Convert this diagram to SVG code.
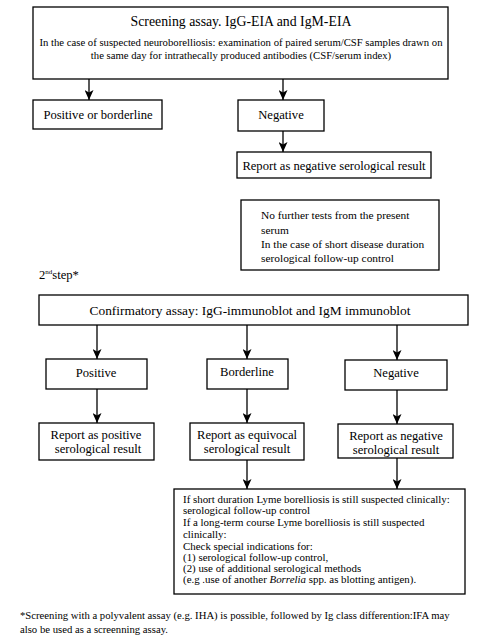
<svg xmlns="http://www.w3.org/2000/svg" width="482" height="644" viewBox="0 0 482 644">
<style>
text{font-family:"Liberation Serif","Times New Roman",serif;fill:#000}
.b{fill:#fff;stroke:#000;stroke-width:1.3}
.t{font-size:13.8px}
.m{font-size:12.6px}
.cf{font-size:13.4px}
.s{font-size:10.7px}
.n{font-size:11.4px}
.g{font-size:10.9px}
.f{font-size:10.7px}
.c{stroke:#000;stroke-width:1.3;fill:none}
</style>
<defs>
<marker id="ar" markerWidth="10" markerHeight="9" refX="10" refY="4.5" orient="auto" markerUnits="userSpaceOnUse" viewBox="0 0 10 9">
<path d="M0,0 L2.5,4.5 L0,9 L10,4.5 Z" fill="#000"/>
</marker>
</defs>
<rect width="482" height="644" fill="#fff"/>
<g id="connectors">
<line class="c" x1="89" y1="79" x2="89" y2="100" marker-end="url(#ar)"/>
<line class="c" x1="283" y1="79" x2="283" y2="100" marker-end="url(#ar)"/>
<line class="c" x1="283" y1="131" x2="283" y2="152" marker-end="url(#ar)"/>
<line class="c" x1="97" y1="325" x2="97" y2="359" marker-end="url(#ar)"/>
<line class="c" x1="247" y1="325" x2="247" y2="359" marker-end="url(#ar)"/>
<line class="c" x1="397" y1="325" x2="397" y2="360" marker-end="url(#ar)"/>
<line class="c" x1="97" y1="389" x2="97" y2="423" marker-end="url(#ar)"/>
<line class="c" x1="247" y1="389" x2="247" y2="423" marker-end="url(#ar)"/>
<line class="c" x1="397" y1="390" x2="397" y2="424" marker-end="url(#ar)"/>
<line class="c" x1="247" y1="460" x2="247" y2="489" marker-end="url(#ar)"/>
<line class="c" x1="397" y1="458" x2="397" y2="489" marker-end="url(#ar)"/>
</g>
<g id="screening">
<rect class="b" x="33" y="7" width="415" height="72"/>
<text class="t" x="241" y="26" text-anchor="middle">Screening assay. IgG-EIA and IgM-EIA</text>
<text class="s" x="241" y="46" text-anchor="middle">In the case of suspected neuroborelliosis: examination of paired serum/CSF samples drawn on</text>
<text class="s" x="241" y="59" text-anchor="middle">the same day for intrathecally produced antibodies (CSF/serum index)</text>
</g>
<g id="pos-border">
<rect class="b" x="33" y="100" width="129" height="29"/>
<text class="m" x="98" y="119" text-anchor="middle">Positive or borderline</text>
</g>
<g id="negative1">
<rect class="b" x="238" y="100" width="86" height="31"/>
<text class="m" x="281" y="119" text-anchor="middle">Negative</text>
</g>
<g id="report-neg1">
<rect class="b" x="237" y="152" width="194" height="26"/>
<text class="m" x="334" y="170" text-anchor="middle">Report as negative serological result</text>
</g>
<g id="no-further">
<rect class="b" x="241" y="200" width="198" height="70"/>
<text class="n" x="261" y="219">No further tests from the present</text>
<text class="n" x="261" y="234">serum</text>
<text class="n" x="261" y="248">In the case of short disease duration</text>
<text class="n" x="261" y="262">serological follow-up control</text>
</g>
<g id="step2">
<text class="m" x="39" y="279">2<tspan font-size="7" dy="-5">nd</tspan><tspan dy="5">step*</tspan></text>
</g>
<g id="confirmatory">
<rect class="b" x="39" y="295" width="429" height="30"/>
<text class="cf" x="250" y="315" text-anchor="middle">Confirmatory assay: IgG-immunoblot and IgM immunoblot</text>
</g>
<g id="positive">
<rect class="b" x="46" y="359" width="101" height="30"/>
<text class="m" x="96" y="377" text-anchor="middle">Positive</text>
</g>
<g id="borderline">
<rect class="b" x="207" y="359" width="81" height="30"/>
<text class="m" x="247" y="376" text-anchor="middle">Borderline</text>
</g>
<g id="negative2">
<rect class="b" x="345" y="360" width="102" height="30"/>
<text class="m" x="396" y="377" text-anchor="middle">Negative</text>
</g>
<g id="report-pos">
<rect class="b" x="39" y="423" width="115" height="37"/>
<text class="m" x="96" y="439" text-anchor="middle">Report as positive</text>
<text class="m" x="98" y="453" text-anchor="middle">serological result</text>
</g>
<g id="report-equiv">
<rect class="b" x="190" y="423" width="114" height="37"/>
<text class="m" x="247" y="439" text-anchor="middle">Report as equivocal</text>
<text class="m" x="247" y="453" text-anchor="middle">serological result</text>
</g>
<g id="report-neg2">
<rect class="b" x="338" y="424" width="115" height="34"/>
<text class="m" x="396" y="440" text-anchor="middle">Report as negative</text>
<text class="m" x="396" y="454" text-anchor="middle">serological result</text>
</g>
<g id="followup">
<rect class="b" x="174" y="489" width="291" height="105"/>
<text class="g" x="183" y="503">If short duration Lyme borelliosis is still suspected clinically:</text>
<text class="g" x="183" y="514">serological follow-up control</text>
<text class="g" x="183" y="526">If a long-term course Lyme borelliosis is still suspected</text>
<text class="g" x="183" y="538">clinically:</text>
<text class="g" x="183" y="550">Check special indications for:</text>
<text class="g" x="183" y="561">(1) serological follow-up control,</text>
<text class="g" x="183" y="572">(2) use of additional serological methods</text>
<text class="g" x="183" y="583">(e.g .use of another <tspan font-style="italic">Borrelia</tspan> spp. as blotting antigen).</text>
</g>
<g id="footnote">
<text class="f" x="20" y="619">*Screening with a polyvalent assay (e.g. IHA) is possible, followed by Ig class differention:IFA may</text>
<text class="f" x="20" y="633">also be used as a screenning assay.</text>
</g>
</svg>
